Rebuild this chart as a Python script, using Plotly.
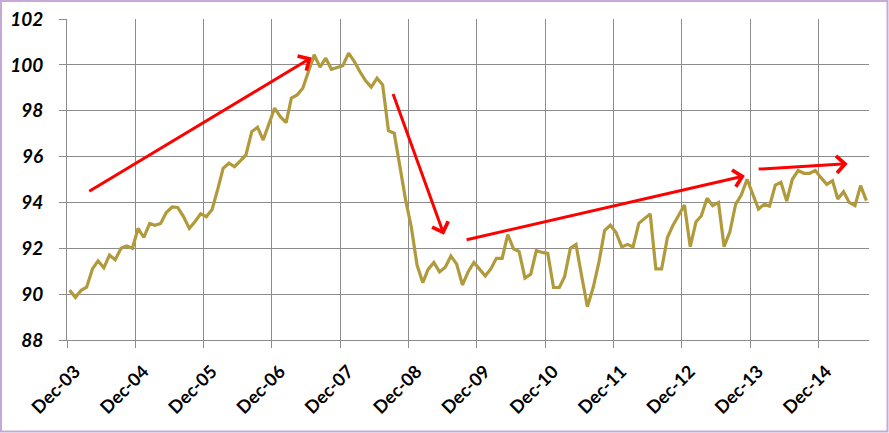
import pandas as pd
import plotly.graph_objects as go

# Monthly index values, Dec-03 .. Aug-15
vals_2003_04 = [90.17, 89.86, 90.17, 90.30, 91.10, 91.45, 91.15, 91.70, 91.50, 92.00, 92.10, 92.00]
vals_2004_05 = [92.87, 92.47, 93.08, 93.00, 93.08, 93.56, 93.80, 93.78, 93.38, 92.87, 93.16, 93.50]
vals_2005_06 = [93.38, 93.69, 94.60, 95.49, 95.71, 95.56, 95.81, 96.07, 97.09, 97.28, 96.72, 97.45]
vals_2006_07 = [98.11, 97.74, 97.48, 98.55, 98.69, 98.98, 99.78, 100.44, 99.90, 100.29, 99.81, 99.90]
vals_2007_08 = [99.96, 100.51, 100.14, 99.71, 99.30, 99.03, 99.42, 99.13, 97.13, 97.02, 95.56, 94.10]
vals_2008_09 = [92.94, 91.27, 90.50, 91.08, 91.38, 90.97, 91.17, 91.66, 91.31, 90.40, 90.97, 91.38]
vals_2009_10 = [91.09, 90.79, 91.12, 91.56, 91.56, 92.60, 91.98, 91.86, 90.70, 90.87, 91.90, 91.82]
vals_2010_11 = [91.78, 90.29, 90.29, 90.76, 92.00, 92.17, 90.76, 89.45, 90.29, 91.41, 92.77, 93.01]
vals_2011_12 = [92.69, 92.06, 92.17, 92.06, 93.09, 93.28, 93.50, 91.10, 91.10, 92.47, 93.01, 93.45]
vals_2012_13 = [93.89, 92.07, 93.16, 93.41, 94.18, 93.86, 94.00, 92.07, 92.72, 93.93, 94.32, 95.01]
vals_2013_14 = [94.32, 93.71, 93.92, 93.84, 94.76, 94.88, 94.06, 95.01, 95.39, 95.27, 95.27, 95.39]
vals_2014_15 = [95.08, 94.79, 94.95, 94.15, 94.47, 94.00, 93.86, 94.73, 94.08]

values = (vals_2003_04 + vals_2004_05 + vals_2005_06 + vals_2006_07 + vals_2007_08 + vals_2008_09
          + vals_2009_10 + vals_2010_11 + vals_2011_12 + vals_2012_13 + vals_2013_14 + vals_2014_15)
dates = pd.date_range("2003-12-01", periods=len(values), freq="MS") + pd.Timedelta(days=14)

tick_dates = [f"{y}-12-01" for y in range(2003, 2015)]
tick_labels = ["Dec-03", "Dec-04", "Dec-05", "Dec-06", "Dec-07", "Dec-08",
               "Dec-09", "Dec-10", "Dec-11", "Dec-12", "Dec-13", "Dec-14"]
y_ticks = [88, 90, 92, 94, 96, 98, 100, 102]

# Trend arrows: (start date, start value, end date, end value)
arrow_start_x = ["2004-03-21", "2008-09-06", "2009-09-29", "2014-01-08"]
arrow_start_y = [94.45, 98.79, 92.36, 95.45]
arrow_end_x = ["2007-07-01", "2009-06-08", "2013-11-03", "2015-05-07"]
arrow_end_y = [100.32, 92.59, 95.16, 95.69]

LINE = "#B19A3C"
GRID = "#8C8C8C"

fig = go.Figure()
fig.add_trace(go.Scatter(x=dates, y=values, mode="lines",
                         line=dict(color=LINE, width=3.2), hoverinfo="x+y"))

for sx, sy, ex, ey in zip(arrow_start_x, arrow_start_y, arrow_end_x, arrow_end_y):
    fig.add_annotation(x=ex, y=ey, ax=sx, ay=sy, xref="x", yref="y", axref="x", ayref="y",
                       showarrow=True, arrowhead=4, arrowsize=1.1, arrowwidth=3,
                       arrowcolor="#FF0000", text="")

W, H = 889, 433
L, R, T, B = 67, 20, 19, 93
pw, ph = W - L - R, H - T - B
fig.add_shape(type="rect", xref="paper", yref="paper",
              x0=(1 - L) / pw, x1=(W - 1.5 - L) / pw,
              y0=(H - B - (H - 1.5)) / ph, y1=(H - B - 1) / ph,
              line=dict(color="#C6A9D6", width=2), layer="above")

fig.update_layout(
    width=W, height=H,
    margin=dict(l=L, r=R, t=T, b=B, autoexpand=False),
    paper_bgcolor="white", plot_bgcolor="white",
    showlegend=False,
    font=dict(family="Lato, 'DejaVu Sans', sans-serif", color="#000000"),
)
fig.update_xaxes(
    type="date", automargin=False,
    range=["2003-12-01", "2015-08-29"],
    tickvals=tick_dates, ticktext=tick_labels, tickangle=-45,
    tickfont=dict(size=18, weight="bold", family="Lato"),
    ticklabelstandoff=6, ticklabelshift=8,
    showgrid=True, gridcolor=GRID, gridwidth=1,
    showline=True, linecolor=GRID, linewidth=1,
    ticks="outside", ticklen=7, tickcolor=GRID,
    zeroline=False,
)
fig.update_yaxes(
    automargin=False,
    range=[88, 102], tickvals=y_ticks,
    tickfont=dict(size=19, weight="bold", style="italic", family="Lato"),
    ticklabelstandoff=12,
    showgrid=True, gridcolor=GRID, gridwidth=1,
    showline=True, linecolor=GRID, linewidth=1,
    ticks="outside", ticklen=7, tickcolor=GRID,
    zeroline=False,
)

fig.write_html("out.html", config={"displayModeBar": False},
               post_script="document.body.style.margin='0';document.body.style.overflow='hidden';")
